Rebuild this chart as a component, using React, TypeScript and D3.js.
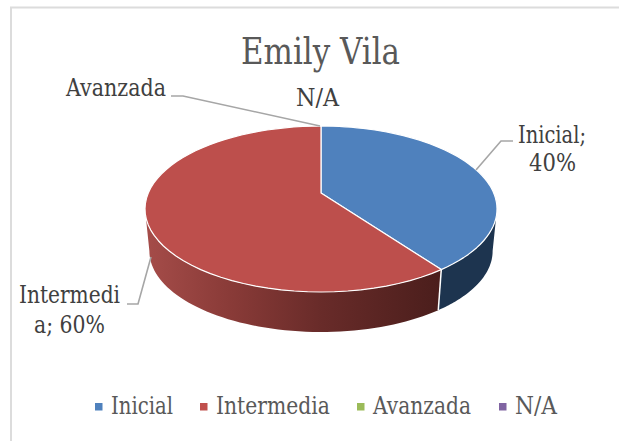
import React from "react";
import * as d3 from "d3";

const categories = ["Inicial", "Intermedia", "Avanzada", "N/A"];
const shares = [40, 60, 0, 0];
const topColors = ["#4f81bd", "#bd4f4c", "#9bbb59", "#8064a2"];
const title = "Emily Vila";
const FONT = "'DejaVu Serif', serif";

const persp = 0.1928;
const apex = { x: 321, y: 193 };
const rimTop = { a: 172.7, b: 79.9, cy: 193 };
const rimBottom = { a: 168.4, b: 77.9, cy: 235.5 };
const TAU = Math.PI * 2;

function project(r: { a: number; b: number; cy: number }, theta: number): [number, number] {
  const u = Math.sin(theta);
  const v = -Math.cos(theta);
  const d = 1 - persp * v;
  return [apex.x + (r.a * u) / d, r.cy + (r.b * v) / d];
}
function rim(r: typeof rimTop, from: number, to: number): [number, number][] {
  return d3.range(0, 61).map((i) => project(r, from + ((to - from) * i) / 60));
}

const line = d3.line();
const pie = d3.pie<number>().sort(null).value((d) => d);
const arcs = pie(shares);
const silhouetteR = Math.acos(-persp);
const silhouetteL = TAU - silhouetteR;

const leaders: [number, number][][] = [
  [[171, 96], [183, 96], [320, 126]],
  [[513, 141], [501, 141], [476, 170]],
  [[127, 304], [138, 304], [151, 257]],
];

const labels: { t: string; x: number; y: number; w: number }[] = [
  { t: "Avanzada", x: 66, y: 96, w: 100 },
  { t: "N/A", x: 296, y: 106, w: 43 },
  { t: "Inicial;", x: 518, y: 143, w: 68 },
  { t: "40%", x: 529, y: 171, w: 47 },
  { t: "Intermedi", x: 19, y: 303, w: 101 },
  { t: "a; 60%", x: 34, y: 333, w: 71 },
];

const legendX = [95, 200, 357, 499];
const legendTextX = [111, 216, 373, 515];
const legendTextW = [62, 114, 98, 42];

export default function App() {
  const sideBlue = [
    ...rim(rimTop, silhouetteR, arcs[0].endAngle),
    ...rim(rimBottom, arcs[0].endAngle, silhouetteR),
  ];
  const sideRed = [
    ...rim(rimTop, arcs[1].startAngle, silhouetteL),
    ...rim(rimBottom, silhouetteL, arcs[1].startAngle),
  ];
  return (
    <svg
      width={619}
      height={441}
      style={{ position: "absolute", left: 0, top: 0, background: "#fff" }}
      fontFamily={FONT}
    >
      <defs>
        <linearGradient id="redSide" gradientUnits="userSpaceOnUse" x1={146} x2={440} y1={0} y2={0}>
          <stop offset="0" stopColor="#a54c49" />
          <stop offset="0.3" stopColor="#883a37" />
          <stop offset="0.6" stopColor="#682b29" />
          <stop offset="1" stopColor="#4b1e1c" />
        </linearGradient>
      </defs>
      <path d="M11,441V7.5H619" fill="none" stroke="#dcdcdc" strokeWidth={2} />

      <text x={241} y={64} fontSize={37} fill="#595959" textLength={159} lengthAdjust="spacingAndGlyphs">
        {title}
      </text>

      <path d={line(sideBlue)! + "Z"} fill="#1d344f" />
      <path d={line(sideRed)! + "Z"} fill="url(#redSide)" />
      <path
        d={line([project(rimTop, arcs[0].endAngle), project(rimBottom, arcs[0].endAngle)])!}
        stroke="#fff"
        strokeWidth={1.5}
        fill="none"
      />

      {arcs.filter((a) => a.value > 0).map((a) => (
        <path
          key={a.index}
          d={line([[apex.x, apex.y], ...rim(rimTop, a.startAngle, a.endAngle)])! + "Z"}
          fill={topColors[a.index]}
          stroke="#fff"
          strokeWidth={1.2}
          strokeLinejoin="round"
        />
      ))}

      {leaders.map((l, i) => (
        <path key={i} d={line(l)!} fill="none" stroke="#a6a6a6" strokeWidth={1.6} />
      ))}
      {labels.map((l) => (
        <text key={l.t} x={l.x} y={l.y} fontSize={24} fill="#404040" textLength={l.w} lengthAdjust="spacingAndGlyphs">
          {l.t}
        </text>
      ))}

      {categories.map((c, i) => (
        <g key={c}>
          <rect x={legendX[i]} y={403} width={7.5} height={7.5} fill={topColors[i] === "#bd4f4c" ? "#c0504d" : topColors[i]} />
          <text x={legendTextX[i]} y={414} fontSize={24} fill="#595959" textLength={legendTextW[i]} lengthAdjust="spacingAndGlyphs">
            {c}
          </text>
        </g>
      ))}
    </svg>
  );
}
